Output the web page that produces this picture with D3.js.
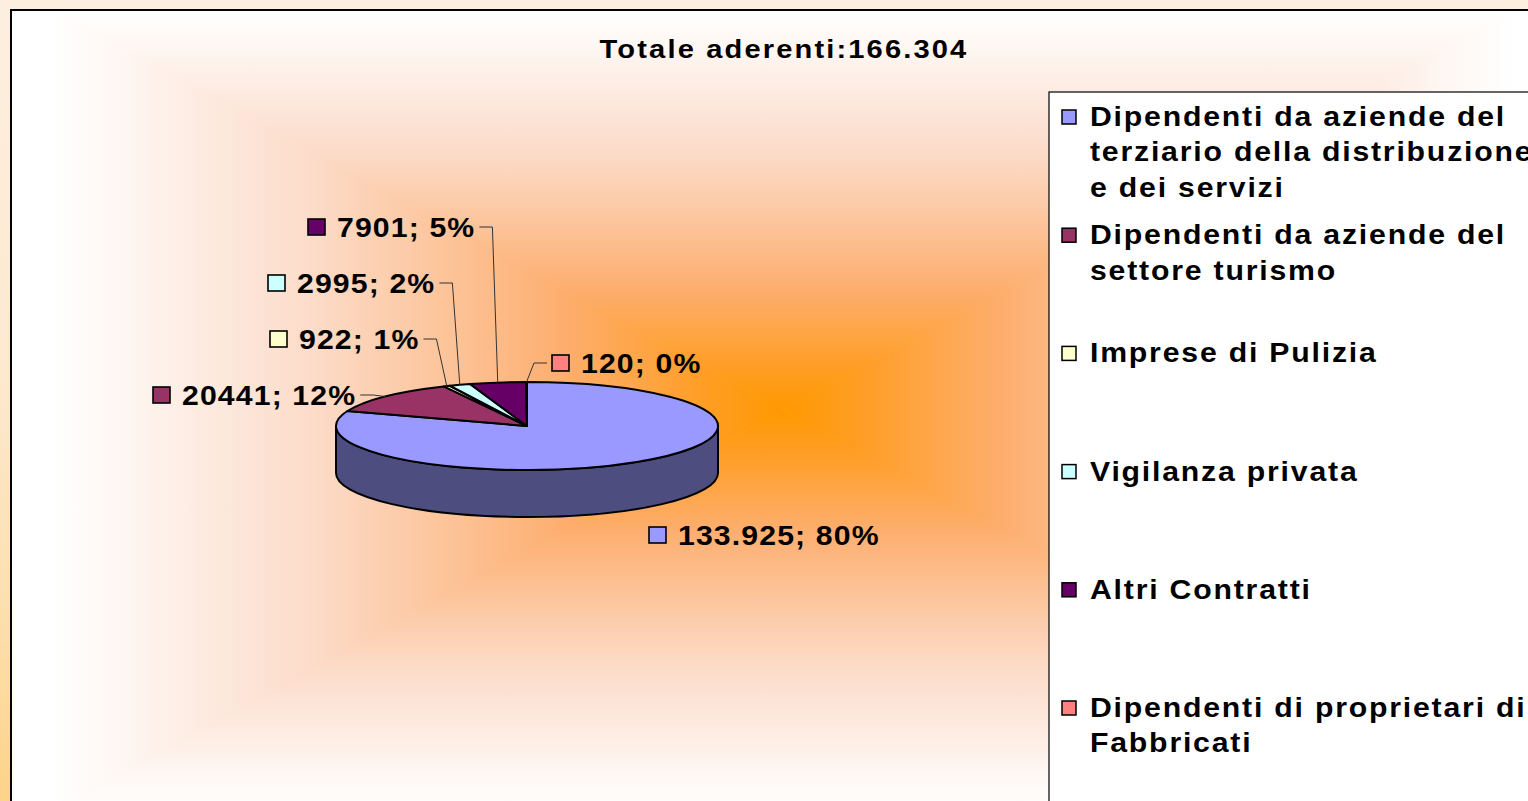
<!DOCTYPE html>
<html><head><meta charset="utf-8">
<script src="https://cdn.jsdelivr.net/npm/d3@7"></script>
<style>html,body{margin:0;padding:0;overflow:hidden;background:#fdeedd}</style>
</head><body>
<svg id="c" width="1528" height="801"></svg>
<script>
// ---------- data ----------
const title = "Totale aderenti:166.304";
const categories = [
  "Dipendenti da aziende del terziario della distribuzione e dei servizi",
  "Dipendenti da aziende del settore turismo",
  "Imprese di Pulizia",
  "Vigilanza privata",
  "Altri Contratti",
  "Dipendenti di proprietari di Fabbricati"
];
const values = [133925, 20441, 922, 2995, 7901, 120];
const dataLabels = ["133.925; 80%", "20441; 12%", "922; 1%", "2995; 2%", "7901; 5%", "120; 0%"];

// ---------- styles / layout ----------
const sliceColors = ["#9999ff", "#993366", "#ffffcc", "#ccffff", "#660066", "#ff8080"];
const labelAnchors = [[649, 535], [153, 395], [270, 339], [268, 283], [308, 227], [552, 363]];
const W = 1528, H = 801;
const cx = 527, cy = 426, rx = 191, ry = 44, depth = 47;
const FONT = "'Liberation Sans', Arial, sans-serif";
const SX = 1.12; // horizontal stretch of the text

const svg = d3.select("#c");
const defs = svg.append("defs");

function sText(parent, x, y, txt, size, spacing, anchor) {
  const g = parent.append("g").attr("transform", `translate(${x},${y}) scale(${SX},1)`);
  return g.append("text").attr("x", 0).attr("y", 0)
    .attr("font-family", FONT).attr("font-weight", "bold").attr("font-size", size)
    .attr("letter-spacing", spacing).attr("text-anchor", anchor || "start").text(txt);
}

// page background
const bg = defs.append("linearGradient").attr("id", "pagebg").attr("x1", 0).attr("y1", 0).attr("x2", 0).attr("y2", 1);
[[0, "#fdefe0"], [0.45, "#fde9d0"], [0.75, "#fde0b0"], [1, "#fed389"]].forEach(s =>
  bg.append("stop").attr("offset", s[0]).attr("stop-color", s[1]));
svg.append("rect").attr("width", W).attr("height", H).attr("fill", "url(#pagebg)");

// chart area with rectangular "from center" gradient
const area = {x: 11, y: 10, w: 1600, h: 900};
defs.append("clipPath").attr("id", "areaClip").append("rect")
  .attr("x", area.x).attr("y", area.y).attr("width", area.w).attr("height", area.h);
const gC = [783, 410], hw = 730, hh = 400;
const gStops = [[0, "#ff9900"], [0.1, "#ff9d22"], [0.3, "#fdae6e"], [0.5, "#fcc9a4"], [0.65, "#fcdcca"], [0.8, "#fdebe1"], [0.9, "#fef6f1"], [1, "#ffffff"]];
const corners = [[gC[0] - hw, gC[1] - hh], [gC[0] + hw, gC[1] - hh], [gC[0] + hw, gC[1] + hh], [gC[0] - hw, gC[1] + hh]];
const dirs = [[0, -hh], [hw, 0], [0, hh], [-hw, 0]];
const gArea = svg.append("g").attr("clip-path", "url(#areaClip)");
gArea.append("rect").attr("x", area.x).attr("y", area.y).attr("width", area.w).attr("height", area.h).attr("fill", "#ffffff");
for (let i = 0; i < 4; i++) {
  const lg = defs.append("linearGradient").attr("id", "rg" + i).attr("gradientUnits", "userSpaceOnUse")
    .attr("x1", gC[0]).attr("y1", gC[1]).attr("x2", gC[0] + dirs[i][0]).attr("y2", gC[1] + dirs[i][1]);
  gStops.forEach(s => lg.append("stop").attr("offset", s[0]).attr("stop-color", s[1]));
  const a = corners[i], b = corners[(i + 1) % 4];
  gArea.append("path").attr("d", `M${gC[0]},${gC[1]}L${a[0]},${a[1]}L${b[0]},${b[1]}Z`)
    .attr("fill", `url(#rg${i})`).attr("stroke", `url(#rg${i})`).attr("stroke-width", 0.8);
}
svg.append("rect").attr("x", area.x).attr("y", area.y).attr("width", area.w).attr("height", area.h)
  .attr("fill", "none").attr("stroke", "#000").attr("stroke-width", 2);

// title
sText(svg, 784, 58, title, 26, 1.9, "middle");

// ---------- pie ----------
const arcs = d3.pie().sort(null).value(d => d).startAngle(0).endAngle(2 * Math.PI)(values);
const P = (a, dy = 0) => [cx + rx * Math.sin(a), cy - ry * Math.cos(a) + dy];
const darken = c => { const r = d3.rgb(c); return d3.rgb(r.r * 0.5, r.g * 0.5, r.b * 0.5).formatHex(); };

const gPie = svg.append("g");
arcs.forEach((d, i) => {
  const s = Math.max(d.startAngle, Math.PI / 2), e = Math.min(d.endAngle, 3 * Math.PI / 2);
  if (e <= s) return;
  const p1 = P(s), p2 = P(e), p3 = P(e, depth), p4 = P(s, depth);
  const large = (e - s) > Math.PI ? 1 : 0;
  gPie.append("path")
    .attr("d", `M${p1}A${rx},${ry} 0 ${large} 1 ${p2}L${p3}A${rx},${ry} 0 ${large} 0 ${p4}Z`)
    .attr("fill", darken(sliceColors[i])).attr("stroke", "#000").attr("stroke-width", 2).attr("stroke-linejoin", "round");
});
arcs.forEach((d, i) => {
  const p1 = P(d.startAngle), p2 = P(d.endAngle);
  const large = (d.endAngle - d.startAngle) > Math.PI ? 1 : 0;
  gPie.append("path")
    .attr("d", `M${cx},${cy}L${p1}A${rx},${ry} 0 ${large} 1 ${p2}Z`)
    .attr("fill", sliceColors[i]).attr("stroke", "#000").attr("stroke-width", 2).attr("stroke-linejoin", "round");
});

// ---------- data labels ----------
const gLab = svg.append("g");
arcs.forEach((d, i) => {
  const [lx, ly] = labelAnchors[i];
  gLab.append("rect").attr("x", lx).attr("y", ly - 8).attr("width", 17).attr("height", 16)
    .attr("fill", sliceColors[i]).attr("stroke", "#000").attr("stroke-width", 1.6);
  const t = sText(gLab, lx + 29, ly + 9.5, dataLabels[i], 27, 1.0);
  if (i === 0) return;
  const mid = (d.startAngle + d.endAngle) / 2;
  const pm = P(mid);
  const right = lx + 29 + t.node().getComputedTextLength() * SX;
  let pts;
  if (pm[0] > right) {
    const x0 = right + 4;
    pts = [[x0, ly], [x0 + 13, ly], pm];
  } else {
    const x0 = lx - 5;
    pts = [[x0, ly], [x0 - 13, ly], pm];
  }
  gLab.append("path").attr("d", d3.line()(pts)).attr("fill", "none").attr("stroke", "#333").attr("stroke-width", 1);
});

// ---------- legend ----------
const lgX = 1049, lgY = 92;
svg.append("rect").attr("x", lgX).attr("y", lgY).attr("width", 600).attr("height", 800)
  .attr("fill", "#ffffff").attr("stroke", "#000").attr("stroke-width", 1.2);
const gLeg = svg.append("g");
const maxW = 460;
categories.forEach((c, i) => {
  const base = 126 + i * 118.2;
  gLeg.append("rect").attr("x", 1062).attr("y", base - 16).attr("width", 14).attr("height", 14)
    .attr("fill", sliceColors[i]).attr("stroke", "#000").attr("stroke-width", 1.5);
  const words = c.split(" ");
  let line = "", lineNo = 0;
  const mk = (txt, n) => sText(gLeg, 1090, base + n * 35.3, txt, 27, 1.6);
  let cur = mk("", 0);
  words.forEach(w => {
    const trial = line ? line + " " + w : w;
    cur.text(trial);
    if (cur.node().getComputedTextLength() * SX > maxW && line) {
      cur.text(line);
      lineNo++;
      cur = mk(w, lineNo);
      line = w;
    } else line = trial;
  });
});
</script>
</body></html>
